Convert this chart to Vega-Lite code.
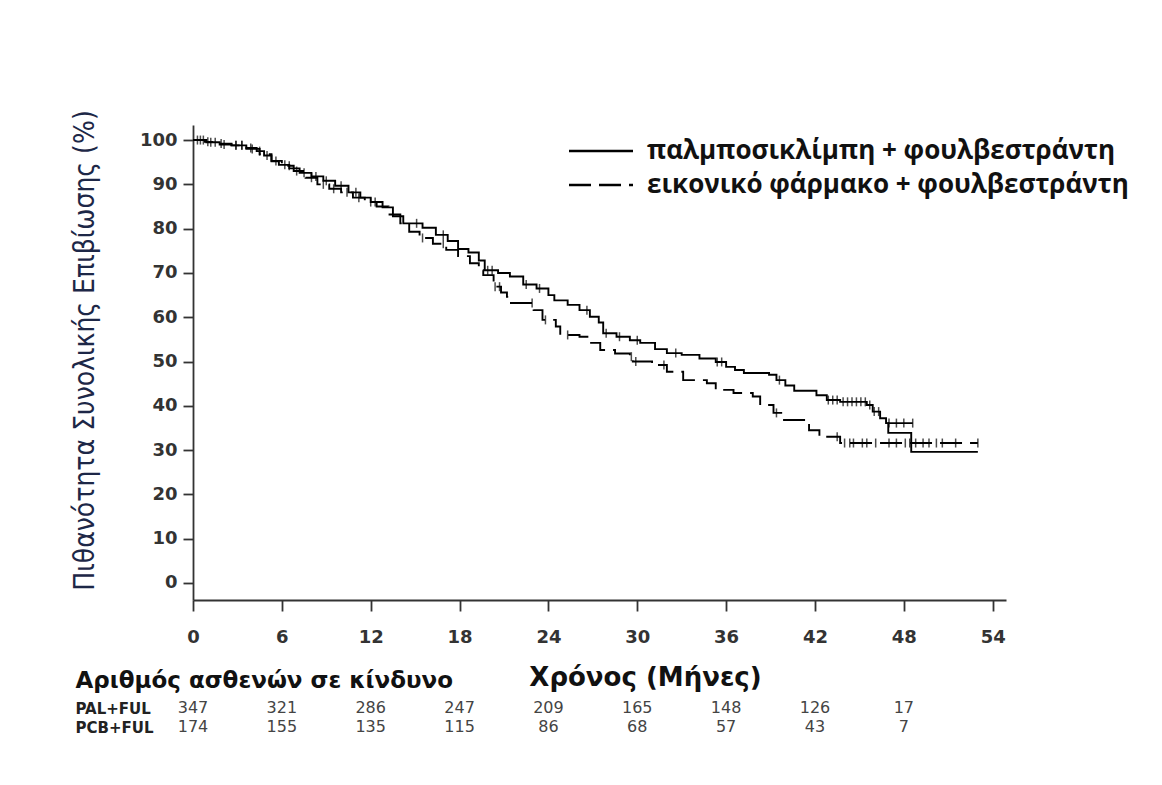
{
  "$schema": "https://vega.github.io/schema/vega-lite/v6.json",
  "autosize": "none",
  "padding": {"left": 193, "top": 125, "right": 969, "bottom": 660},
  "background": "white",
  "config": {"view": {"stroke": null}, "axis": {"grid": false}},
  "spacing": 98.5,
  "bounds": "flush",
  "datasets": {
    "curves": [
      {"g":"PAL","t":0,"s":100},{"g":"PAL","t":0.9,"s":99.5},{"g":"PAL","t":1.8,"s":99.0},{"g":"PAL","t":2.6,"s":98.8},{"g":"PAL","t":3.6,"s":98.2},{"g":"PAL","t":4.3,"s":97.5},{"g":"PAL","t":4.8,"s":96.5},{"g":"PAL","t":5.3,"s":95.2},{"g":"PAL","t":5.8,"s":94.4},{"g":"PAL","t":6.5,"s":93.6},{"g":"PAL","t":7.2,"s":92.6},{"g":"PAL","t":8.0,"s":91.8},{"g":"PAL","t":8.8,"s":90.8},{"g":"PAL","t":9.6,"s":89.7},{"g":"PAL","t":10.5,"s":88.2},{"g":"PAL","t":11.3,"s":87.0},{"g":"PAL","t":12.0,"s":86.0},{"g":"PAL","t":12.8,"s":84.8},{"g":"PAL","t":13.5,"s":82.8},{"g":"PAL","t":14.2,"s":81.2},{"g":"PAL","t":15.5,"s":80.2},{"g":"PAL","t":16.4,"s":78.6},{"g":"PAL","t":17.2,"s":77.2},{"g":"PAL","t":17.9,"s":75.4},{"g":"PAL","t":18.6,"s":74.6},{"g":"PAL","t":19.3,"s":72.8},{"g":"PAL","t":19.7,"s":70.6},{"g":"PAL","t":20.6,"s":70.0},{"g":"PAL","t":21.4,"s":69.2},{"g":"PAL","t":22.3,"s":67.4},{"g":"PAL","t":23.2,"s":66.5},{"g":"PAL","t":24.0,"s":65.0},{"g":"PAL","t":24.4,"s":63.8},{"g":"PAL","t":25.3,"s":62.8},{"g":"PAL","t":26.1,"s":61.6},{"g":"PAL","t":26.8,"s":60.1},{"g":"PAL","t":27.4,"s":58.8},{"g":"PAL","t":27.7,"s":56.4},{"g":"PAL","t":28.6,"s":55.6},{"g":"PAL","t":29.5,"s":54.8},{"g":"PAL","t":30.2,"s":54.2},{"g":"PAL","t":31.2,"s":52.8},{"g":"PAL","t":32.0,"s":51.9},{"g":"PAL","t":33.0,"s":51.5},{"g":"PAL","t":34.2,"s":50.7},{"g":"PAL","t":35.3,"s":49.9},{"g":"PAL","t":36.0,"s":48.8},{"g":"PAL","t":36.6,"s":48.1},{"g":"PAL","t":37.2,"s":47.4},{"g":"PAL","t":38.9,"s":47.0},{"g":"PAL","t":39.4,"s":45.8},{"g":"PAL","t":40.0,"s":44.6},{"g":"PAL","t":40.6,"s":43.4},{"g":"PAL","t":42.1,"s":42.4},{"g":"PAL","t":42.8,"s":41.3},{"g":"PAL","t":43.7,"s":40.9},{"g":"PAL","t":45.5,"s":40.2},{"g":"PAL","t":45.9,"s":38.7},{"g":"PAL","t":46.4,"s":37.2},{"g":"PAL","t":46.8,"s":36.1},{"g":"PAL","t":48.6,"s":36.1},
      {"g":"PCB","t":0,"s":100},{"g":"PCB","t":0.8,"s":99.6},{"g":"PCB","t":1.6,"s":99.2},{"g":"PCB","t":2.6,"s":98.8},{"g":"PCB","t":3.6,"s":98.0},{"g":"PCB","t":4.5,"s":96.8},{"g":"PCB","t":5.3,"s":95.3},{"g":"PCB","t":6.0,"s":94.2},{"g":"PCB","t":6.8,"s":93.0},{"g":"PCB","t":7.6,"s":91.5},{"g":"PCB","t":8.4,"s":90.0},{"g":"PCB","t":9.2,"s":89.0},{"g":"PCB","t":10.0,"s":88.2},{"g":"PCB","t":10.8,"s":87.0},{"g":"PCB","t":11.6,"s":86.0},{"g":"PCB","t":12.4,"s":85.0},{"g":"PCB","t":13.2,"s":83.2},{"g":"PCB","t":14.0,"s":81.2},{"g":"PCB","t":14.6,"s":79.3},{"g":"PCB","t":15.3,"s":77.9},{"g":"PCB","t":16.2,"s":76.6},{"g":"PCB","t":17.1,"s":75.2},{"g":"PCB","t":17.9,"s":73.8},{"g":"PCB","t":18.7,"s":72.2},{"g":"PCB","t":19.3,"s":70.6},{"g":"PCB","t":19.6,"s":69.5},{"g":"PCB","t":20.3,"s":66.9},{"g":"PCB","t":20.8,"s":65.6},{"g":"PCB","t":21.2,"s":64.6},{"g":"PCB","t":21.4,"s":63.2},{"g":"PCB","t":23.0,"s":61.6},{"g":"PCB","t":23.6,"s":59.4},{"g":"PCB","t":24.5,"s":57.9},{"g":"PCB","t":24.8,"s":56.0},{"g":"PCB","t":26.1,"s":55.6},{"g":"PCB","t":26.8,"s":54.2},{"g":"PCB","t":27.5,"s":52.6},{"g":"PCB","t":28.5,"s":51.8},{"g":"PCB","t":29.5,"s":51.1},{"g":"PCB","t":29.7,"s":50.0},{"g":"PCB","t":31.0,"s":49.2},{"g":"PCB","t":32.0,"s":47.7},{"g":"PCB","t":33.1,"s":45.8},{"g":"PCB","t":34.7,"s":45.1},{"g":"PCB","t":35.3,"s":43.6},{"g":"PCB","t":36.5,"s":42.9},{"g":"PCB","t":37.8,"s":42.1},{"g":"PCB","t":38.3,"s":40.2},{"g":"PCB","t":39.2,"s":38.4},{"g":"PCB","t":39.8,"s":36.8},{"g":"PCB","t":41.6,"s":34.5},{"g":"PCB","t":42.3,"s":33.0},{"g":"PCB","t":43.7,"s":31.6},{"g":"PCB","t":53.0,"s":31.6}
    ],
    "tail": [
      {"t":46.9,"s":36.1},{"t":46.95,"s":33.9},{"t":48.5,"s":29.6},{"t":53.0,"s":29.6}
    ],
    "censor": [
      {"g":"PAL","t":0.3,"s":100},{"g":"PAL","t":0.7,"s":100},{"g":"PAL","t":1.2,"s":99.5},{"g":"PAL","t":1.5,"s":99.5},{"g":"PAL","t":2.1,"s":99.0},{"g":"PAL","t":2.9,"s":98.8},{"g":"PAL","t":3.3,"s":98.8},{"g":"PAL","t":3.9,"s":98.2},{"g":"PAL","t":4.5,"s":97.5},{"g":"PAL","t":5.0,"s":96.5},{"g":"PAL","t":6.2,"s":94.4},{"g":"PAL","t":7.5,"s":92.6},{"g":"PAL","t":8.3,"s":91.8},{"g":"PAL","t":9.0,"s":90.8},{"g":"PAL","t":10.0,"s":89.7},{"g":"PAL","t":11.0,"s":88.2},{"g":"PAL","t":12.3,"s":86.0},{"g":"PAL","t":15.1,"s":81.2},{"g":"PAL","t":16.9,"s":78.6},{"g":"PAL","t":19.9,"s":70.6},{"g":"PAL","t":20.2,"s":70.6},{"g":"PAL","t":22.5,"s":67.4},{"g":"PAL","t":23.4,"s":66.5},{"g":"PAL","t":26.6,"s":61.6},{"g":"PAL","t":27.9,"s":56.4},{"g":"PAL","t":28.8,"s":55.6},{"g":"PAL","t":30.0,"s":54.8},{"g":"PAL","t":32.6,"s":51.9},{"g":"PAL","t":35.4,"s":49.9},{"g":"PAL","t":35.7,"s":49.9},{"g":"PAL","t":39.6,"s":45.8},{"g":"PAL","t":42.9,"s":41.3},{"g":"PAL","t":43.2,"s":41.3},{"g":"PAL","t":43.5,"s":41.3},{"g":"PAL","t":43.9,"s":40.9},{"g":"PAL","t":44.2,"s":40.9},{"g":"PAL","t":44.5,"s":40.9},{"g":"PAL","t":44.8,"s":40.9},{"g":"PAL","t":45.1,"s":40.9},{"g":"PAL","t":45.4,"s":40.9},{"g":"PAL","t":45.7,"s":40.2},{"g":"PAL","t":46.0,"s":38.7},{"g":"PAL","t":46.3,"s":38.7},{"g":"PAL","t":47.0,"s":36.1},{"g":"PAL","t":47.5,"s":36.1},{"g":"PAL","t":48.0,"s":36.1},{"g":"PAL","t":48.6,"s":36.1},
      {"g":"PCB","t":0.5,"s":100},{"g":"PCB","t":1.0,"s":99.6},{"g":"PCB","t":1.9,"s":99.2},{"g":"PCB","t":2.9,"s":98.8},{"g":"PCB","t":3.3,"s":98.8},{"g":"PCB","t":4.0,"s":98.0},{"g":"PCB","t":5.6,"s":95.3},{"g":"PCB","t":6.5,"s":94.2},{"g":"PCB","t":7.0,"s":93.0},{"g":"PCB","t":8.0,"s":91.5},{"g":"PCB","t":8.8,"s":90.0},{"g":"PCB","t":9.5,"s":89.0},{"g":"PCB","t":10.4,"s":88.2},{"g":"PCB","t":11.2,"s":87.0},{"g":"PCB","t":12.0,"s":86.0},{"g":"PCB","t":15.5,"s":77.9},{"g":"PCB","t":16.9,"s":76.6},{"g":"PCB","t":20.4,"s":66.9},{"g":"PCB","t":20.7,"s":66.9},{"g":"PCB","t":22.9,"s":63.2},{"g":"PCB","t":23.8,"s":59.4},{"g":"PCB","t":25.3,"s":56.0},{"g":"PCB","t":29.6,"s":51.1},{"g":"PCB","t":29.9,"s":50.0},{"g":"PCB","t":31.8,"s":49.2},{"g":"PCB","t":39.4,"s":38.4},{"g":"PCB","t":43.5,"s":33.0},{"g":"PCB","t":44.0,"s":31.6},{"g":"PCB","t":44.35,"s":31.6},{"g":"PCB","t":44.6,"s":31.6},{"g":"PCB","t":45.2,"s":31.6},{"g":"PCB","t":45.5,"s":31.6},{"g":"PCB","t":46.1,"s":31.6},{"g":"PCB","t":47.0,"s":31.6},{"g":"PCB","t":47.5,"s":31.6},{"g":"PCB","t":48.1,"s":31.6},{"g":"PCB","t":48.4,"s":31.6},{"g":"PCB","t":48.8,"s":31.6},{"g":"PCB","t":49.3,"s":31.6},{"g":"PCB","t":49.7,"s":31.6},{"g":"PCB","t":50.2,"s":31.6},{"g":"PCB","t":50.6,"s":31.6},{"g":"PCB","t":51.5,"s":31.6},{"g":"PCB","t":53.0,"s":31.6}
    ],
    "risk": [
      {"arm":"PAL+FUL","t":0,"n":"347"},{"arm":"PAL+FUL","t":6,"n":"321"},{"arm":"PAL+FUL","t":12,"n":"286"},{"arm":"PAL+FUL","t":18,"n":"247"},{"arm":"PAL+FUL","t":24,"n":"209"},{"arm":"PAL+FUL","t":30,"n":"165"},{"arm":"PAL+FUL","t":36,"n":"148"},{"arm":"PAL+FUL","t":42,"n":"126"},{"arm":"PAL+FUL","t":48,"n":"17"},
      {"arm":"PCB+FUL","t":0,"n":"174"},{"arm":"PCB+FUL","t":6,"n":"155"},{"arm":"PCB+FUL","t":12,"n":"135"},{"arm":"PCB+FUL","t":18,"n":"115"},{"arm":"PCB+FUL","t":24,"n":"86"},{"arm":"PCB+FUL","t":30,"n":"68"},{"arm":"PCB+FUL","t":36,"n":"57"},{"arm":"PCB+FUL","t":42,"n":"43"},{"arm":"PCB+FUL","t":48,"n":"7"}
    ]
  },
  "vconcat": [
    {
      "width": 813,
      "height": 475,
      "layer": [
        {
          "data": {"name": "curves"},
          "mark": {"type": "line", "interpolate": "step-after", "strokeWidth": 1.9, "color": "black", "strokeCap": "butt"},
          "encoding": {
            "x": {"field": "t", "type": "quantitative",
              "scale": {"domain": [0, 54.9], "nice": false, "zero": false},
              "axis": {"values": [0,6,12,18,24,30,36,42,48,54], "tickSize": 11, "tickWidth": 1.8, "tickColor": "#333", "domainColor": "#333", "domainWidth": 1.8,
                "labelFont": "DejaVu Sans", "labelFontWeight": "bold", "labelFontSize": 18, "labelColor": "#333", "labelPadding": 17, "labelFlush": false, "labelOverlap": false,
                "title": "Χρόνος (Μήνες)", "titleFont": "DejaVu Sans", "titleFontWeight": "bold", "titleFontSize": 26, "titleColor": "#111",
                "titleX": 452, "titleY": 85, "titleAlign": "center", "titleBaseline": "alphabetic"}},
            "y": {"field": "s", "type": "quantitative",
              "scale": {"domain": [-3.84, 103.4], "nice": false, "zero": false},
              "axis": {"values": [0,10,20,30,40,50,60,70,80,90,100], "tickSize": 10, "tickWidth": 1.8, "tickColor": "#333", "domainColor": "#333", "domainWidth": 1.8,
                "labelFont": "DejaVu Sans", "labelFontWeight": "bold", "labelFontSize": 18, "labelColor": "#333", "labelPadding": 6, "labelFlush": false, "labelOverlap": false,
                "title": "Πιθανότητα Συνολικής Επιβίωσης (%)", "titleFont": "'Liberation Sans Narrow', 'DejaVu Sans Condensed', sans-serif", "titleFontWeight": "normal", "titleFontSize": 28, "titleColor": "#1d2747",
                "titleX": -108, "titleY": 225, "titleAngle": -90, "titleAlign": "center", "titleBaseline": "middle"}},
            "strokeDash": {"field": "g", "type": "nominal",
              "scale": {"domain": ["PAL", "PCB"], "range": [[1, 0], [22, 8]]},
              "legend": {"orient": "none", "legendX": 395, "legendY": 13, "title": null, "padding": 0,
                "symbolType": "M-4,0H4", "symbolSize": 256, "symbolStrokeWidth": 2.5, "symbolStrokeColor": "black", "symbolFillColor": "transparent",
                "labelFont": "Open Sans", "labelFontSize": 26, "labelFontWeight": "bold", "labelColor": "#111", "labelOffset": 33, "labelLimit": 0, "rowPadding": 8,
                "labelExpr": "datum.label == 'PAL' ? 'παλμποσικλίμπη + φουλβεστράντη' : 'εικονικό φάρμακο + φουλβεστράντη'"}}
          }
        },
        {
          "data": {"name": "tail"},
          "mark": {"type": "line", "interpolate": "step-after", "strokeWidth": 1.9, "color": "black", "strokeCap": "butt"},
          "encoding": {
            "x": {"field": "t", "type": "quantitative"},
            "y": {"field": "s", "type": "quantitative"}
          }
        },
        {
          "data": {"name": "censor"},
          "mark": {"type": "tick", "orient": "vertical", "size": 9, "thickness": 1.5, "color": "black"},
          "encoding": {
            "x": {"field": "t", "type": "quantitative"},
            "y": {"field": "s", "type": "quantitative"}
          }
        }
      ]
    },
    {
      "width": 813,
      "height": 38,
      "data": {"name": "risk"},
      "mark": {"type": "text", "font": "DejaVu Sans", "fontSize": 16, "color": "#444", "align": "center", "baseline": "middle"},
      "encoding": {
        "x": {"field": "t", "type": "quantitative", "scale": {"domain": [0, 54.9], "nice": false, "zero": false}, "axis": null},
        "y": {"field": "arm", "type": "nominal",
          "scale": {"domain": ["PAL+FUL", "PCB+FUL"], "paddingInner": 0, "paddingOuter": 0},
          "axis": {"ticks": false, "tickSize": 0, "domain": false, "labelAlign": "left", "labelPadding": 118, "labelFont": "DejaVu Sans", "labelFontWeight": "bold", "labelFontSize": 15, "labelColor": "#222",
            "title": "Αριθμός ασθενών σε κίνδυνο", "titleFont": "DejaVu Sans", "titleFontWeight": "bold", "titleFontSize": 23, "titleColor": "#111",
            "titleAngle": 0, "titleX": -118, "titleY": -11.5, "titleAlign": "left", "titleBaseline": "alphabetic"}},
        "text": {"field": "n", "type": "nominal"}
      }
    }
  ]
}
